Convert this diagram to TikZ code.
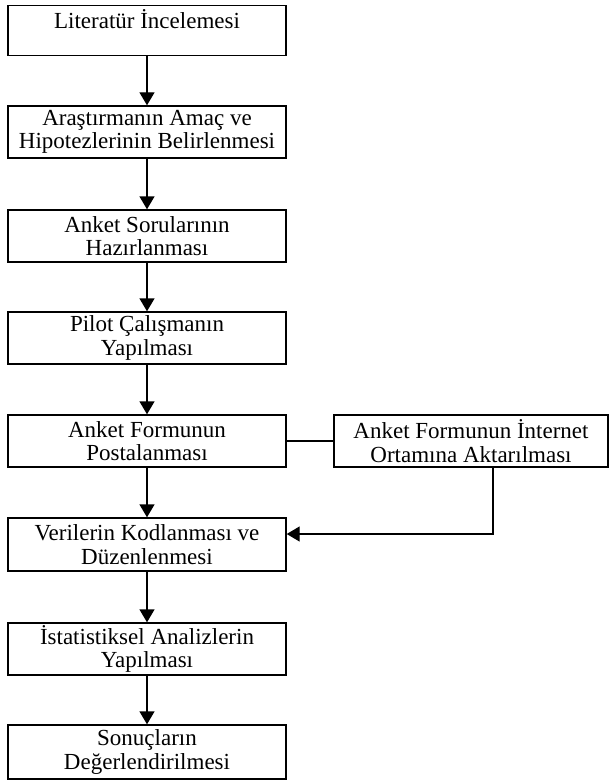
\documentclass[tikz,border=0pt]{standalone}
\usepackage{fontspec}
\setmainfont{Liberation Serif}
\usetikzlibrary{arrows.meta}

\begin{document}
\begin{tikzpicture}[x=1pt, y=-1pt,
    stepbox/.style={draw, line width=1.4pt, align=center, inner sep=1pt,
                    minimum width=278pt, minimum height=52pt, font=\fontsize{23}{23.5}\selectfont},
    flowarrow/.style={line width=1.4pt, -{Triangle[width=15pt, length=13pt]}}]
    \useasboundingbox (0,0) rectangle (611,781);

    % Main column
    \node[stepbox, minimum height=50pt, anchor=north] (lit) at (147,5) {Literatür İncelemesi\\[0pt]~};
    \node[stepbox] (amac) at (147,132) {Araştırmanın Amaç ve\\Hipotezlerinin Belirlenmesi};
    \node[stepbox] (soru) at (147,236) {Anket Sorularının\\Hazırlanması};
    \node[stepbox] (pilot) at (147,338) {Pilot Çalışmanın\\Yapılması};
    \node[stepbox] (posta) at (147,441) {Anket Formunun\\Postalanması};
    \node[stepbox, minimum height=53pt] (kod) at (147,544.5) {Verilerin Kodlanması ve\\Düzenlenmesi};
    \node[stepbox] (analiz) at (147,649) {İstatistiksel Analizlerin\\Yapılması};
    \node[stepbox, minimum height=54pt] (sonuc) at (147,752) {Sonuçların\\Değerlendirilmesi};

    % Side branch
    \node[stepbox, minimum width=274pt] (internet) at (471,441) {Anket Formunun İnternet\\Ortamına Aktarılması};
    \coordinate (netbend) at (493,534);

    % Arrows
    \draw[flowarrow] (lit) -- (amac);
    \draw[flowarrow] (amac) -- (soru);
    \draw[flowarrow] (soru) -- (pilot);
    \draw[flowarrow] (pilot) -- (posta);
    \draw[flowarrow] (posta) -- (kod);
    \draw[flowarrow] (kod) -- (analiz);
    \draw[flowarrow] (analiz) -- (sonuc);
    \draw[line width=1.4pt] (posta.east) -- (posta.east -| internet.west);
    \draw[flowarrow] (internet.south -| netbend) -- (netbend) -- (kod.east |- netbend);
\end{tikzpicture}
\end{document}
